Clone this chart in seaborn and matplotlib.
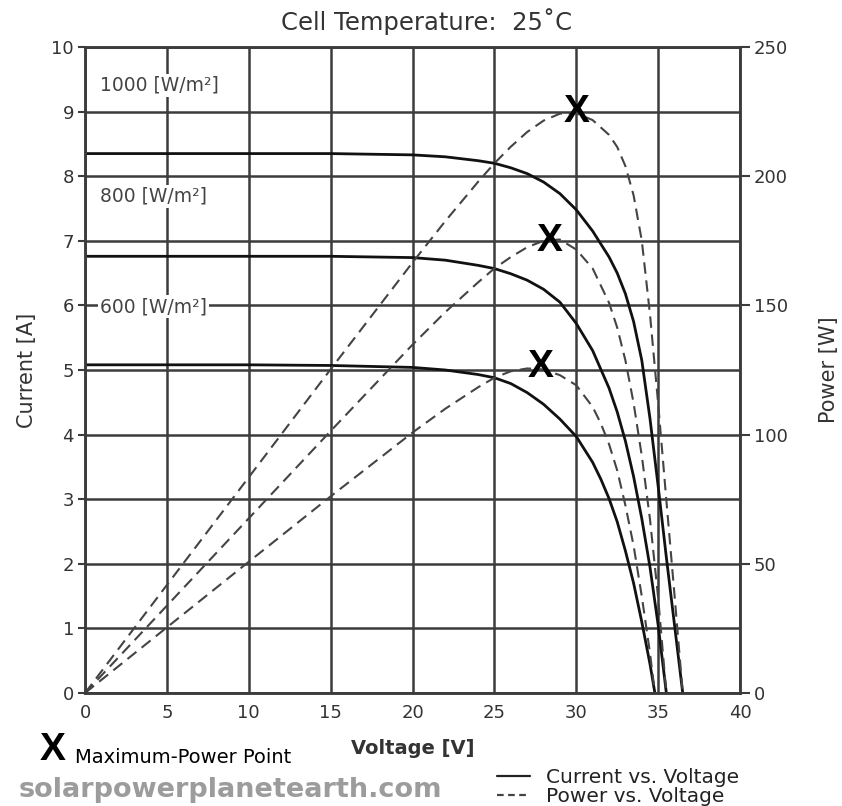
import matplotlib
matplotlib.use("Agg")
import matplotlib.pyplot as plt
import seaborn as sns
import pandas as pd
from matplotlib.lines import Line2D

# ---------------- data ----------------
irradiance_labels = ["1000 [W/m²]", "800 [W/m²]", "600 [W/m²]"]

v_1000 = [0, 5, 10, 15, 20, 22, 24, 25, 26, 27, 28, 29, 30, 31, 32, 32.5, 33, 33.5, 34, 34.5, 35, 35.5, 36, 36.5]
i_1000 = [8.35, 8.35, 8.35, 8.35, 8.33, 8.30, 8.24, 8.20, 8.13, 8.04, 7.91, 7.73, 7.48, 7.15, 6.75, 6.50,
          6.18, 5.75, 5.15, 4.25, 3.20, 2.10, 1.05, 0]
p_1000 = [0, 41.8, 83.5, 125.3, 166.6, 182.6, 197.8, 205.0, 211.4, 217.1, 221.5, 224.2, 224.4, 221.7, 216.0,
          211.3, 203.9, 192.6, 175.1, 146.6, 112.0, 74.6, 37.8, 0]

v_800 = [0, 5, 10, 15, 20, 22, 24, 25, 26, 27, 28, 29, 30, 31, 32, 32.5, 33, 33.5, 34, 34.5, 35, 35.5]
i_800 = [6.76, 6.76, 6.76, 6.76, 6.74, 6.70, 6.62, 6.57, 6.49, 6.39, 6.25, 6.05, 5.72, 5.30, 4.72, 4.35,
         3.90, 3.35, 2.70, 1.95, 1.05, 0]
p_800 = [0, 33.8, 67.6, 101.4, 134.8, 147.4, 158.9, 164.3, 168.7, 172.5, 175.0, 175.5, 171.6, 164.3, 151.0,
         141.4, 128.7, 112.2, 91.8, 67.3, 36.8, 0]

v_600 = [0, 5, 10, 15, 20, 22, 24, 25, 26, 27, 28, 29, 30, 31, 31.5, 32, 32.5, 33, 33.5, 34, 34.5, 34.8]
i_600 = [5.08, 5.08, 5.08, 5.07, 5.04, 5.00, 4.93, 4.88, 4.79, 4.65, 4.47, 4.24, 3.97, 3.57, 3.31, 3.01,
         2.65, 2.20, 1.70, 1.10, 0.45, 0]
p_600 = [0, 25.4, 50.8, 76.1, 100.8, 110.0, 118.3, 122.0, 124.5, 125.6, 125.2, 123.0, 119.1, 110.7, 104.3,
         96.3, 86.1, 72.6, 57.0, 37.4, 15.5, 0]

mpp_voltage = [30.0, 28.4, 27.8]
mpp_power = [225, 175, 126]

x_ticks = [0, 5, 10, 15, 20, 25, 30, 35, 40]
current_ticks = [0, 1, 2, 3, 4, 5, 6, 7, 8, 9, 10]
power_ticks = [0, 50, 100, 150, 200, 250]

label_current = [9.41, 7.69, 5.98]

# ---------------- styling ----------------
sns.set_theme(style="white")
plt.rcParams["font.family"] = ["DejaVu Sans"]

fig = plt.figure(figsize=(8.42, 8.06), dpi=100)
ax = fig.add_axes([0.1010, 0.1402, 0.7779, 0.8015])
ax2 = ax.twinx()

GRID = "#3c3c3c"
for a in (ax, ax2):
    for s in a.spines.values():
        s.set_color(GRID)
        s.set_linewidth(1.8)

ax.set_xlim(0, 40)
ax.set_ylim(0, 10)
ax2.set_ylim(0, 250)
ax.set_xticks(x_ticks)
ax.set_yticks(current_ticks)
ax2.set_yticks(power_ticks)
ax.grid(True, color=GRID, linewidth=1.8)
ax2.grid(False)
ax.tick_params(axis="both", length=5, width=1.5, color=GRID, labelsize=13, labelcolor="#333333", pad=3)
ax.tick_params(axis="y", left=True)
ax.tick_params(axis="x", bottom=False)
ax2.tick_params(axis="y", right=True, length=7, width=1.5, color=GRID, labelsize=13, labelcolor="#333333", pad=3)

# curves
frames = [(v_1000, i_1000, p_1000), (v_800, i_800, p_800), (v_600, i_600, p_600)]
for v, i, p in frames:
    df = pd.DataFrame({"V": v, "I": i, "P": p})
    sns.lineplot(data=df, x="V", y="I", ax=ax, color="#111111", linewidth=2.0,
                 estimator=None, sort=False, legend=False)
    sns.lineplot(data=df, x="V", y="P", ax=ax2, color="#444444", linewidth=1.5,
                 linestyle=(0, (5.5, 3.2)), estimator=None, sort=False, legend=False)

# maximum power points
for v, p in zip(mpp_voltage, mpp_power):
    ax2.text(v, p, "X", ha="center", va="center", fontsize=28, fontweight="bold",
             color="black", family=["Liberation Sans", "DejaVu Sans"], zorder=10)

# irradiance labels
for lab, y in zip(irradiance_labels, label_current):
    ax.text(0.9, y, lab, ha="left", va="center", fontsize=13.5, color="#444444",
            family=["DejaVu Sans"],
            bbox=dict(facecolor="white", edgecolor="none", pad=1.5), zorder=5)

ax.set_xlabel("Voltage [V]", fontsize=14, color="#333333", labelpad=12, fontweight="bold")
ax.set_ylabel("Current [A]", fontsize=15, color="#333333", labelpad=10)
ax2.set_ylabel("Power [W]", fontsize=15, color="#333333", labelpad=22, rotation=90)
fig.text(0.507, 0.973, "Cell Temperature:  25˚C", fontsize=17.5, color="#333333",
         ha="center", va="center")

# bottom annotations
fig.text(0.047, 0.069, "X", fontsize=28, fontweight="bold", color="black",
         family=["Liberation Sans", "DejaVu Sans"], va="center", ha="left")
fig.text(0.089, 0.060, "Maximum-Power Point", fontsize=14, color="black", va="center", ha="left")
fig.text(0.022, 0.020, "solarpowerplanetearth.com", fontsize=19.5, fontweight="bold",
         color="#9c9c9c", family=["DejaVu Sans"], va="center", ha="left")

handles = [Line2D([0], [0], color="#222222", linewidth=1.6),
           Line2D([0], [0], color="#444444", linewidth=1.6, linestyle=(0, (3, 2)))]
fig.legend(handles, ["Current vs. Voltage", "Power vs. Voltage"],
           loc="lower left", bbox_to_anchor=(0.569, -0.022), frameon=False,
           fontsize=14.5, handlelength=1.65, handletextpad=0.75, labelspacing=0.0,
           labelcolor="#222222")

fig.savefig("out.png", dpi=100)
